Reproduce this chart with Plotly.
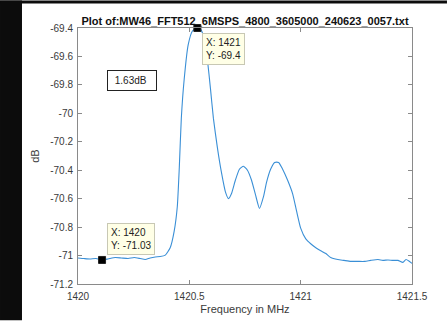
import plotly.graph_objects as go

# ---- data ----
freq_mhz = [1420.000, 1420.027, 1420.054, 1420.081, 1420.108, 1420.135, 1420.167, 1420.194,
            1420.225, 1420.252, 1420.279, 1420.302, 1420.324, 1420.347, 1420.369, 1420.392,
            1420.414, 1420.432, 1420.446, 1420.455, 1420.464, 1420.477, 1420.495, 1420.514,
            1420.536, 1420.550, 1420.568, 1420.581, 1420.595, 1420.608, 1420.626, 1420.644,
            1420.662, 1420.676, 1420.689, 1420.707, 1420.725, 1420.743, 1420.761, 1420.779,
            1420.797, 1420.815, 1420.833, 1420.847, 1420.865, 1420.883, 1420.901, 1420.919,
            1420.941, 1420.964, 1420.982, 1421.000, 1421.023, 1421.045, 1421.068, 1421.090,
            1421.113, 1421.135, 1421.167, 1421.194, 1421.225, 1421.257, 1421.288, 1421.315,
            1421.347, 1421.369, 1421.392, 1421.414, 1421.437, 1421.459, 1421.473, 1421.486,
            1421.500]
power_db = [-71.017, -71.021, -71.024, -71.021, -71.031, -71.024, -71.014, -71.017,
            -71.021, -71.014, -71.021, -71.028, -71.017, -71.010, -71.007, -70.997,
            -70.945, -70.828, -70.655, -70.379, -70.034, -69.759, -69.517, -69.421,
            -69.400, -69.407, -69.483, -69.621, -69.828, -70.034, -70.241, -70.414,
            -70.552, -70.600, -70.566, -70.469, -70.393, -70.372, -70.400, -70.469,
            -70.572, -70.669, -70.586, -70.483, -70.393, -70.345, -70.345, -70.393,
            -70.469, -70.566, -70.690, -70.807, -70.883, -70.917, -70.945, -70.966,
            -70.986, -71.014, -71.028, -71.034, -71.041, -71.041, -71.041, -71.034,
            -71.028, -71.034, -71.031, -71.034, -71.034, -71.048, -71.028, -71.038,
            -71.055]

tip_x = [1420.536, 1420.108]
tip_y = [-69.400, -71.031]
tip_labels = ["X: 1421<br>Y: -69.4", "X: 1420<br>Y: -71.03"]

x_ticks = [1420, 1420.5, 1421, 1421.5]
x_ticklabels = ["1420", "1420.5", "1421", "1421.5"]
y_ticks = [-71.2, -71.0, -70.8, -70.6, -70.4, -70.2, -70.0, -69.8, -69.6, -69.4]
y_ticklabels = ["-71.2", "-71", "-70.8", "-70.6", "-70.4", "-70.2", "-70", "-69.8", "-69.6", "-69.4"]

title_text = "Plot of:MW46_FFT512_6MSPS_4800_3605000_240623_0057.txt"
note_text = "1.63dB"
note_pos = (1420.131, -69.766)

FONT = "Liberation Sans, Arial, Helvetica, sans-serif"
AXIS_COLOR = "#8a8a8a"
LABEL_COLOR = "#3a3a3a"

fig = go.Figure()
fig.add_trace(go.Scatter(
    x=freq_mhz, y=power_db, mode="lines",
    line=dict(color="#3a8fd6", width=1.1, shape="spline", smoothing=0.5),
    showlegend=False, hoverinfo="skip"))
fig.add_trace(go.Scatter(
    x=tip_x, y=tip_y, mode="markers",
    marker=dict(symbol="square", size=7, color="black", line=dict(color="#222", width=1)),
    showlegend=False, cliponaxis=False, hoverinfo="skip"))

# data tips
fig.add_annotation(x=tip_x[0], y=tip_y[0], xref="x", yref="y", text=tip_labels[0],
                   showarrow=False, xanchor="left", yanchor="top", xshift=5, yshift=-5,
                   align="left", bgcolor="#ffffe6", bordercolor="#c8c8b4", borderwidth=1,
                   borderpad=3, font=dict(family=FONT, size=10, color="#222"))
fig.add_annotation(x=tip_x[1], y=tip_y[1], xref="x", yref="y", text=tip_labels[1],
                   showarrow=False, xanchor="left", yanchor="bottom", xshift=5, yshift=5,
                   align="left", bgcolor="#ffffe6", bordercolor="#c8c8b4", borderwidth=1,
                   borderpad=3, font=dict(family=FONT, size=10, color="#222"))
# text box
fig.add_annotation(x=note_pos[0], y=note_pos[1], xref="x", yref="y",
                   text="\u00a0" + note_text + "\u00a0\u00a0",
                   showarrow=False, xanchor="left", yanchor="middle",
                   bgcolor="white", bordercolor="#222", borderwidth=1, borderpad=4,
                   font=dict(family=FONT, size=10, color="#222"))

# black frame of the screenshot (left strip and top strip), kept inside the figure
fig.add_shape(type="rect", xref="paper", yref="paper", x0=-0.2335, x1=-0.1677, y0=-0.1417, y1=1.1073,
              fillcolor="#0c0c0c", line=dict(width=0), layer="below")
fig.add_shape(type="rect", xref="paper", yref="paper", x0=-0.2335, x1=1.1047, y0=1.0955, y1=1.1073,
              fillcolor="#0c0c0c", line=dict(width=0), layer="below")

axis_common = dict(showline=True, linecolor=AXIS_COLOR, linewidth=1, mirror="ticks",
                   ticks="inside", ticklen=4, tickcolor=AXIS_COLOR, showgrid=False,
                   zeroline=False, tickfont=dict(family=FONT, size=10, color=LABEL_COLOR))

fig.update_xaxes(range=[1420, 1421.5], tickvals=x_ticks, ticktext=x_ticklabels,
                 title=dict(text="Frequency in MHz", font=dict(family=FONT, size=11, color=LABEL_COLOR),
                            standoff=4),
                 ticklabelstandoff=3, **axis_common)
fig.update_yaxes(range=[-71.2, -69.4], tickvals=y_ticks, ticktext=y_ticklabels,
                 title=dict(text="dB", font=dict(family=FONT, size=11, color=LABEL_COLOR),
                            standoff=8),
                 ticklabelstandoff=2, **axis_common)

fig.update_layout(
    width=447, height=326,
    margin=dict(l=78, r=35, t=28, b=37),
    paper_bgcolor="white", plot_bgcolor="white",
    title=dict(text="<b>" + title_text + "</b>", x=0.5, xref="paper", xanchor="center",
               y=1, yref="paper", yanchor="bottom", pad=dict(b=3),
               font=dict(family=FONT, size=11, color="#111")),
)

fig.write_html("out.html")
